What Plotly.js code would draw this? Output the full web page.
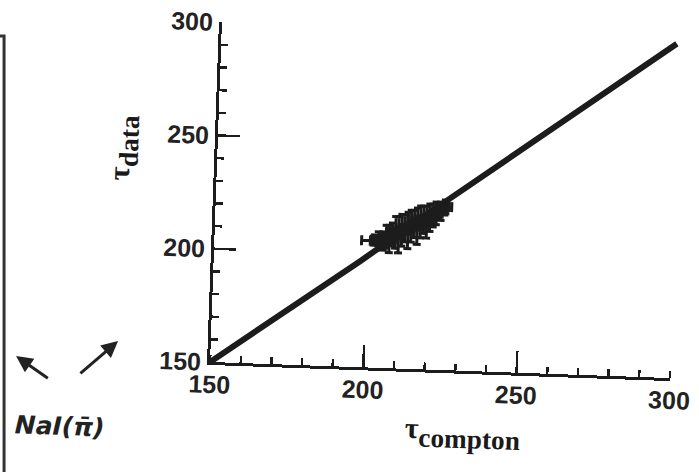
<!DOCTYPE html>
<html>
<head>
<meta charset="utf-8">
<script src="https://cdn.plot.ly/plotly-3.0.1.min.js"></script>
<style>
  html, body { margin: 0; padding: 0; background: #fff; overflow: hidden; width: 699px; height: 472px; }
  #frame {
    position: absolute; left: -20px; top: -20px; width: 739px; height: 512px;
    transform: rotate(2deg); transform-origin: 230px 384px;
  }
</style>
</head>
<body>
<div id="frame"></div>
<script>
// Fitted relation tau_data vs tau_compton
const lineX = [150, 198, 223, 271, 298.5];
const lineY = [150, 197, 222.5, 270, 297.5];

// Measured points with their uncertainties
const clusterX = [202, 203.5, 205, 206, 207, 208, 209, 210, 211, 212, 213, 214, 215, 216, 217, 218, 219, 220, 221, 222, 223.5, 225];
const clusterY = [206, 207, 206, 208, 207, 209, 210, 209, 211, 212, 211, 213, 214, 213, 215, 216, 215, 217, 218, 219, 220, 222];
const clusterErrY = [2, 3, 4, 5, 6, 5, 7, 8, 7, 6, 8, 7, 6, 8, 7, 6, 7, 6, 5, 5, 4, 3];
const clusterErrX = [4, 2, 2, 2, 2, 2, 2, 2, 2, 2, 2, 2, 2, 2, 2, 2, 2, 2, 2, 2, 2, 2];

// Axis ticks
const axisRange = [150, 300];
const majorTicks = [150, 200, 250, 300];
const majorTickText = ['150', '200', '250', '300'];
const longXTicks = [200, 250];
const minorStep = 10;

// Frame geometry (the sheet is tilted by ROT degrees about the axes origin)
const ROT = 2 * Math.PI / 180;
const ORIGIN = [210, 362];      // page position of the axes origin
const OFFSET = 20;              // the frame div starts 20px above/left of the page
const M = { l: 230, t: 42, w: 460, h: 340 };

// page pixel -> paper coordinate inside the tilted frame
function toPaper(px, py) {
  const rx = px - ORIGIN[0], ry = py - ORIGIN[1];
  const c = Math.cos(ROT), s = Math.sin(ROT);
  const a = rx * c + ry * s;
  const b = -rx * s + ry * c;
  const dx = ORIGIN[0] + a + OFFSET;
  const dy = ORIGIN[1] + b + OFFSET;
  return [(dx - M.l) / M.w, 1 - (dy - M.t) / M.h];
}

const ink = '#1c1c1c';
const tickFont = { family: 'Liberation Sans, Arial, sans-serif', size: 25, color: '#222', weight: 'bold' };
const titleFont = { family: 'Liberation Serif, Times New Roman, serif', size: 39, color: '#1a1a1a', weight: 'bold' };

const traces = [
  {
    x: lineX, y: lineY, type: 'scatter', mode: 'lines',
    line: { color: ink, width: 6 }, hoverinfo: 'skip'
  },
  {
    x: clusterX, y: clusterY, type: 'scatter', mode: 'markers',
    marker: { color: ink, size: 10, symbol: 'square' },
    error_y: { type: 'data', array: clusterErrY, color: ink, thickness: 3, width: 4 },
    error_x: { type: 'data', array: clusterErrX, color: ink, thickness: 3, width: 5 },
    hoverinfo: 'skip'
  },
  {
    // carrier for the long-tick overlay axis
    x: axisRange, y: axisRange, xaxis: 'x2', type: 'scatter', mode: 'markers',
    marker: { opacity: 0 }, hoverinfo: 'skip'
  }
];

const border = [toPaper(-2, 36), toPaper(4, 36), toPaper(4, 480)];
const borderPath = 'M' + border.map(p => p[0] + ',' + p[1]).join(' L');

const yTitlePos = toPaper(123, 148);
const xTitlePos = toPaper(462, 433);
const noteTextPos = toPaper(60, 426);
const leftHead = toPaper(16, 356);
const rightHead = toPaper(118, 341);

const layout = {
  width: 739, height: 512,
  margin: { l: M.l, r: 739 - M.l - M.w, t: M.t, b: 512 - M.t - M.h },
  paper_bgcolor: 'rgba(0,0,0,0)', plot_bgcolor: 'rgba(0,0,0,0)',
  showlegend: false,
  xaxis: {
    range: axisRange, tickmode: 'array', tickvals: majorTicks, ticktext: majorTickText,
    ticks: '', showgrid: false, zeroline: false,
    showline: true, linecolor: ink, linewidth: 3,
    tickfont: tickFont, ticklabelstandoff: -2,
    minor: { dtick: minorStep, tick0: 150, ticks: 'inside', ticklen: 7, tickwidth: 2.5, tickcolor: ink, showgrid: false }
  },
  xaxis2: {
    range: axisRange, overlaying: 'x', anchor: 'y', side: 'bottom',
    tickmode: 'array', tickvals: longXTicks, ticks: 'inside', ticklen: 22, tickwidth: 2.5, tickcolor: ink,
    showticklabels: false, showline: false, showgrid: false, zeroline: false
  },
  yaxis: {
    range: axisRange, tickmode: 'array', tickvals: majorTicks, ticktext: majorTickText,
    ticks: 'inside', ticklen: 22, tickwidth: 2.5, tickcolor: ink,
    showgrid: false, zeroline: false,
    showline: true, linecolor: ink, linewidth: 3,
    tickfont: tickFont, ticklabelstandoff: 1,
    minor: { dtick: minorStep, tick0: 150, ticks: 'inside', ticklen: 7, tickwidth: 2.5, tickcolor: ink, showgrid: false }
  },
  shapes: [
    { type: 'path', xref: 'paper', yref: 'paper', path: borderPath, line: { color: '#333', width: 3 } }
  ],
  annotations: [
    {
      xref: 'paper', yref: 'paper', x: yTitlePos[0], y: yTitlePos[1], xanchor: 'center', yanchor: 'middle',
      textangle: -90, text: '<span style="font-size:30px">τ</span><sub>data</sub>', showarrow: false,
      font: titleFont
    },
    {
      xref: 'paper', yref: 'paper', x: xTitlePos[0], y: xTitlePos[1], xanchor: 'center', yanchor: 'middle',
      text: '<span style="font-size:30px">τ</span><sub>compton</sub>', showarrow: false,
      font: titleFont
    },
    {
      xref: 'paper', yref: 'paper', x: noteTextPos[0], y: noteTextPos[1], xanchor: 'center', yanchor: 'middle',
      text: 'NaI(π\u0304)', showarrow: false,
      font: { family: 'DejaVu Sans, sans-serif', size: 25, color: '#222', style: 'italic', weight: 'bold' }
    },
    {
      xref: 'paper', yref: 'paper', x: leftHead[0], y: leftHead[1], text: '',
      showarrow: true, ax: 34, ay: 22, arrowhead: 2, arrowsize: 1.1, arrowwidth: 3, arrowcolor: '#222'
    },
    {
      xref: 'paper', yref: 'paper', x: rightHead[0], y: rightHead[1], text: '',
      showarrow: true, ax: -38, ay: 35, arrowhead: 2, arrowsize: 1.1, arrowwidth: 3, arrowcolor: '#222'
    }
  ]
};

Plotly.newPlot('frame', traces, layout, { staticPlot: true, displayModeBar: false });
</script>
</body>
</html>
